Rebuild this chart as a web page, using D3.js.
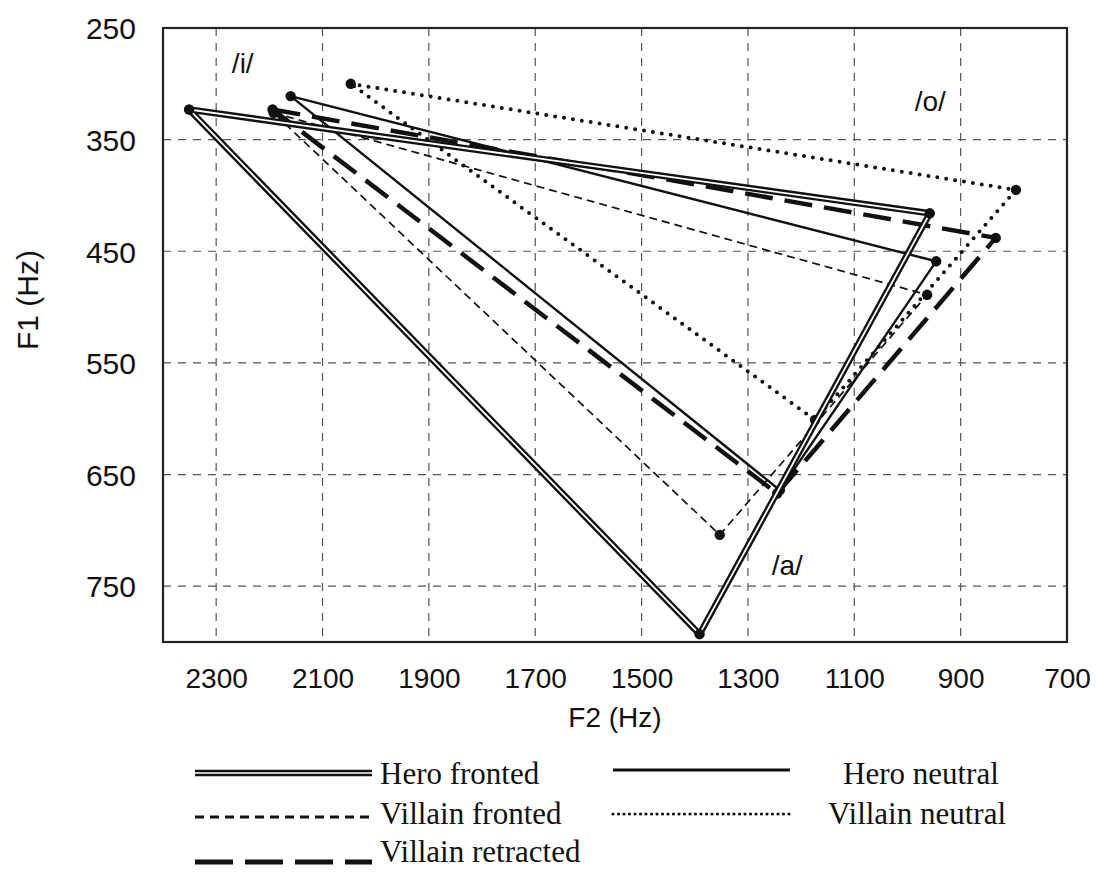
<!DOCTYPE html>
<html>
<head>
<meta charset="utf-8">
<script src="https://cdn.jsdelivr.net/npm/d3@7/dist/d3.min.js"></script>
<style>
  html, body { margin: 0; padding: 0; background: #fff; }
  svg { display: block; }
</style>
</head>
<body>
<svg id="chart" width="1096" height="873"></svg>
<script>
// ---- Data (F2 Hz, F1 Hz) for vowels /i/, /o/, /a/ ----
const vowels = ["/i/", "/o/", "/a/"];
const seriesNames = ["Hero fronted", "Hero neutral", "Villain fronted", "Villain neutral", "Villain retracted"];
const heroFrontedF2 = [2351, 958, 1391];
const heroFrontedF1 = [323, 416, 793];
const heroNeutralF2 = [2160, 946, 1240];
const heroNeutralF1 = [311, 459, 664];
const villainFrontedF2 = [2192, 963, 1353];
const villainFrontedF1 = [326, 489, 704];
const villainNeutralF2 = [2047, 796, 1174];
const villainNeutralF1 = [300, 395, 601];
const villainRetractedF2 = [2194, 834, 1245];
const villainRetractedF1 = [323, 438, 667];
const xTicks = [2300, 2100, 1900, 1700, 1500, 1300, 1100, 900, 700];
const yTicks = [250, 350, 450, 550, 650, 750];
const xDomain = [2400, 700];
const yDomain = [250, 800];

const svg = d3.select("#chart");
const L = 163, R = 1067, T = 28, B = 642;
const x = d3.scaleLinear().domain(xDomain).range([L, R]);
const y = d3.scaleLinear().domain(yDomain).range([T, B]);

// gridlines
const grid = svg.append("g");
grid.selectAll("line.v").data(xTicks.filter(d => d > xDomain[1])).join("line")
  .attr("x1", d => x(d)).attr("x2", d => x(d)).attr("y1", T).attr("y2", B)
  .attr("stroke", "#555").attr("stroke-width", 1.2).attr("stroke-dasharray", "8,7");
grid.selectAll("line.h").data(yTicks.filter(d => d > yDomain[0])).join("line")
  .attr("x1", L).attr("x2", R).attr("y1", d => y(d)).attr("y2", d => y(d))
  .attr("stroke", "#555").attr("stroke-width", 1.2).attr("stroke-dasharray", "8,7");

// axes (labels only, through d3 axis generators)
const xAxis = svg.append("g").attr("transform", `translate(0,${B})`)
  .call(d3.axisBottom(x).tickValues(xTicks).tickSize(0).tickPadding(26).tickFormat(d3.format("d")));
xAxis.select(".domain").remove();
xAxis.selectAll("text").attr("font-family", "Liberation Sans, Arial, sans-serif")
  .attr("font-size", 28).attr("fill", "#111");

const yAxis = svg.append("g").attr("transform", `translate(${L},0)`)
  .call(d3.axisLeft(y).tickValues(yTicks).tickSize(0).tickPadding(27).tickFormat(d3.format("d")));
yAxis.select(".domain").remove();
yAxis.selectAll("text").attr("font-family", "Liberation Sans, Arial, sans-serif")
  .attr("font-size", 30).attr("fill", "#111").attr("dy", "0.36em");

// frame
svg.append("rect").attr("x", L).attr("y", T).attr("width", R - L).attr("height", B - T)
  .attr("fill", "none").attr("stroke", "#222").attr("stroke-width", 2.2);

// axis titles
svg.append("text").attr("x", (L + R) / 2).attr("y", 727).attr("text-anchor", "middle")
  .attr("font-family", "Liberation Sans, Arial, sans-serif").attr("font-size", 28).attr("fill", "#111")
  .text("F2 (Hz)");
svg.append("text").attr("transform", "translate(38,300) rotate(-90)").attr("text-anchor", "middle")
  .attr("font-family", "Liberation Sans, Arial, sans-serif").attr("font-size", 30).attr("fill", "#111")
  .text("F1 (Hz)");

// vowel labels
const vowelLabelPos = [[2250, 281], [957, 315], [1226, 731]];
svg.append("g").selectAll("text").data(vowels).join("text")
  .attr("x", (d, i) => x(vowelLabelPos[i][0])).attr("y", (d, i) => y(vowelLabelPos[i][1]))
  .attr("text-anchor", "middle").attr("dy", "0.36em")
  .attr("font-family", "Liberation Sans, Arial, sans-serif").attr("font-size", 28).attr("fill", "#111")
  .text(d => d);

// series
const styles = {
  "Hero fronted":      {f2: heroFrontedF2, f1: heroFrontedF1, kind: "double"},
  "Hero neutral":      {f2: heroNeutralF2, f1: heroNeutralF1, width: 2.4, dash: null},
  "Villain fronted":   {f2: villainFrontedF2, f1: villainFrontedF1, width: 1.7, dash: "8,5"},
  "Villain neutral":   {f2: villainNeutralF2, f1: villainNeutralF1, width: 4, dash: "0,9", cap: "round"},
  "Villain retracted": {f2: villainRetractedF2, f1: villainRetractedF1, width: 4.5, dash: "28,12"}
};
const line = d3.line().x(d => x(d[0])).y(d => y(d[1]));
const plot = svg.append("g");
const drawOrder = ["Villain neutral", "Villain fronted", "Hero neutral", "Villain retracted", "Hero fronted"];
drawOrder.forEach(name => {
  const s = styles[name];
  const pts = s.f2.map((v, i) => [v, s.f1[i]]);
  const closed = pts.concat([pts[0]]);
  if (s.kind === "double") {
    plot.append("path").attr("d", line(closed)).attr("fill", "none")
      .attr("stroke", "#111").attr("stroke-width", 6.5).attr("stroke-linejoin", "round");
    plot.append("path").attr("d", line(closed)).attr("fill", "none")
      .attr("stroke", "#fff").attr("stroke-width", 1.8).attr("stroke-linejoin", "round");
  } else {
    plot.append("path").attr("d", line(closed)).attr("fill", "none")
      .attr("stroke", "#111").attr("stroke-width", s.width)
      .attr("stroke-dasharray", s.dash).attr("stroke-linecap", s.cap || "butt");
  }
  plot.selectAll(null).data(pts).join("circle")
    .attr("cx", d => x(d[0])).attr("cy", d => y(d[1])).attr("r", 5.2).attr("fill", "#111");
});

// legend
const legendItems = [
  {name: "Hero fronted", x1: 195, x2: 372, ly: 773, tx: 380, ty: 784},
  {name: "Hero neutral", x1: 613, x2: 790, ly: 770, tx: 843, ty: 784},
  {name: "Villain fronted", x1: 195, x2: 372, ly: 817, tx: 380, ty: 824},
  {name: "Villain neutral", x1: 613, x2: 790, ly: 814, tx: 828, ty: 824},
  {name: "Villain retracted", x1: 195, x2: 372, ly: 862, tx: 380, ty: 862}
];
const legendDash = {"Villain fronted": "9,6", "Villain neutral": "0,5.5", "Villain retracted": "38,12"};
const legendWidth = {"Hero neutral": 3, "Villain fronted": 3, "Villain neutral": 3.2, "Villain retracted": 5};
const lg = svg.append("g");
legendItems.forEach(it => {
  if (it.name === "Hero fronted") {
    lg.append("line").attr("x1", it.x1).attr("x2", it.x2).attr("y1", it.ly).attr("y2", it.ly)
      .attr("stroke", "#111").attr("stroke-width", 6.5);
    lg.append("line").attr("x1", it.x1).attr("x2", it.x2).attr("y1", it.ly).attr("y2", it.ly)
      .attr("stroke", "#fff").attr("stroke-width", 1.5);
  } else {
    lg.append("line").attr("x1", it.x1).attr("x2", it.x2).attr("y1", it.ly).attr("y2", it.ly)
      .attr("stroke", "#111").attr("stroke-width", legendWidth[it.name])
      .attr("stroke-dasharray", legendDash[it.name] || null)
      .attr("stroke-linecap", it.name === "Villain neutral" ? "round" : "butt");
  }
  lg.append("text").attr("x", it.tx).attr("y", it.ty)
    .attr("font-family", "Liberation Serif, Times New Roman, serif").attr("font-size", 31)
    .attr("fill", "#111").text(it.name);
});
</script>
</body>
</html>
